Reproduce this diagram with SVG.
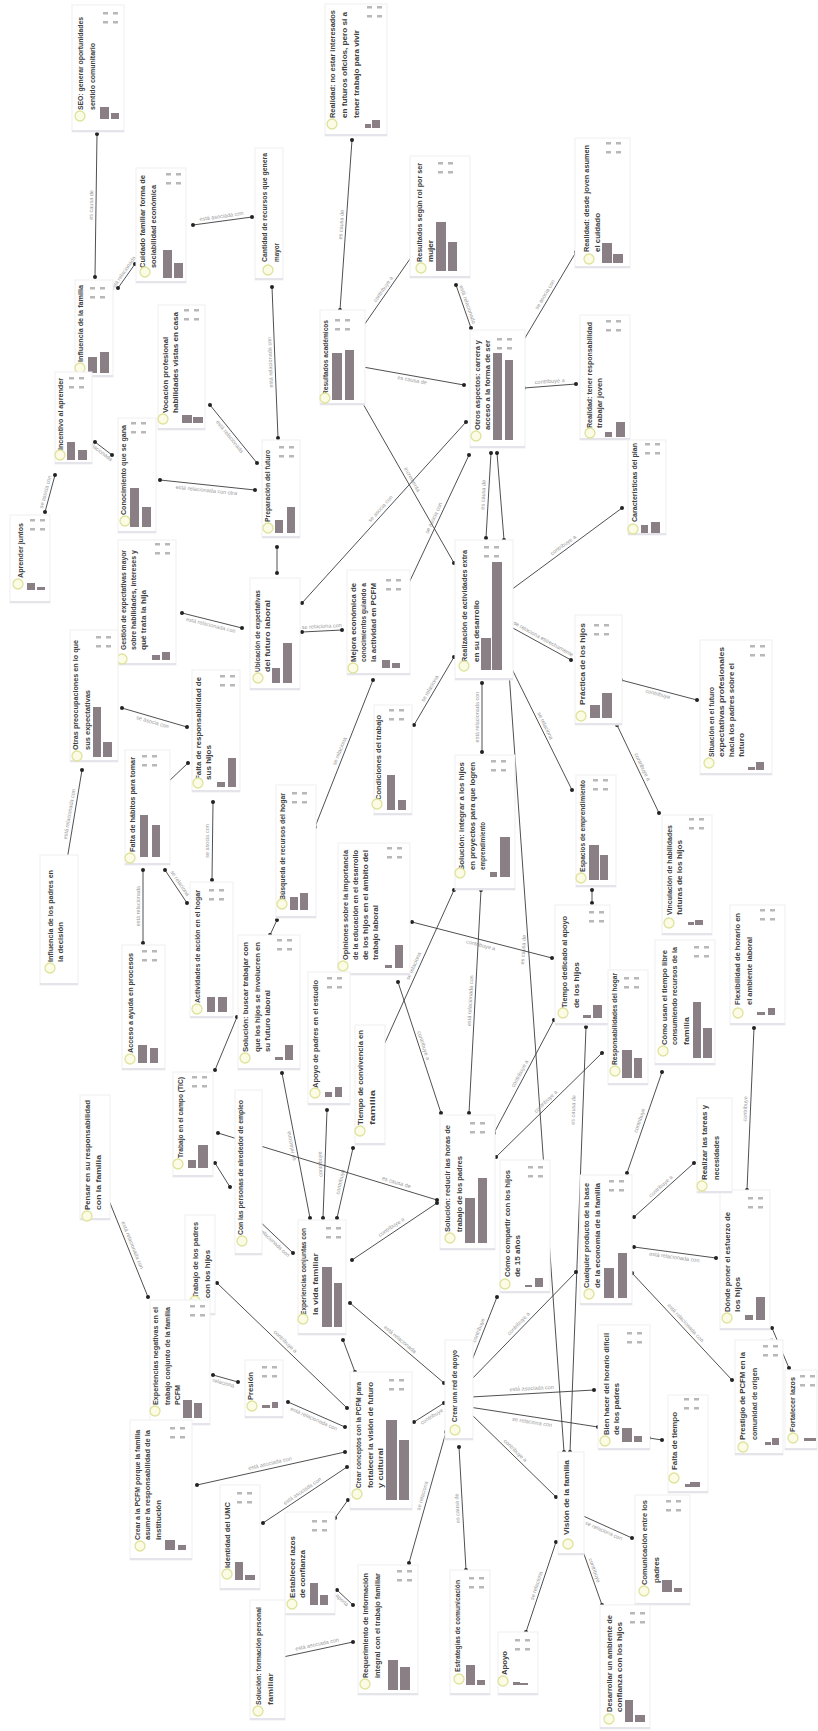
<svg xmlns="http://www.w3.org/2000/svg" xmlns:xlink="http://www.w3.org/1999/xlink" width="818" height="1731" viewBox="0 0 818 1731">
<style>
.bx{fill:#fff;stroke:#efeff2;stroke-width:1}
.sh{fill:#e4e4ea}
.t{font-family:"Liberation Sans",Arial,sans-serif;font-size:7.5px;fill:#404040;font-weight:bold}
.c{fill:#fbfbe6;stroke:#dfe39a;stroke-width:1.3}
.b{fill:#8a7f84}
.ln{stroke:#3c3c3c;stroke-width:0.9;fill:none;marker-start:url(#d);marker-end:url(#d)}
.lb{font-family:"Liberation Sans",Arial,sans-serif;font-size:5.5px;fill:#9a9a9a;text-anchor:middle}
</style>
<defs>
<marker id="d" viewBox="0 0 6 6" refX="3" refY="3" markerWidth="4" markerHeight="4" markerUnits="userSpaceOnUse"><circle cx="3" cy="3" r="3" fill="#222"/></marker>
<g id="mk" fill="#b8b8b8"><rect x="0" y="0" width="5" height="2.5"/><rect x="10" y="0" width="5" height="2.5"/><rect x="0" y="9" width="5" height="2.5"/><rect x="10" y="9" width="5" height="2.5"/></g>
</defs>
<rect width="818" height="1731" fill="#fff"/>

<g id="connectors">
<line class="ln" x1="97" y1="134" x2="95" y2="277"/><text class="lb" transform="translate(96,205) rotate(-89)" y="-3">es causa de</text>
<line class="ln" x1="118" y1="288" x2="135" y2="264"/><text class="lb" transform="translate(127,276) rotate(-55)" y="-3">está relacionada</text>
<line class="ln" x1="193" y1="225" x2="252" y2="217"/><text class="lb" transform="translate(222,221) rotate(-8)" y="-3">está asociada con</text>
<line class="ln" x1="272" y1="287" x2="278" y2="438"/><text class="lb" transform="translate(275,362) rotate(-92)" y="-3">está relacionada con</text>
<line class="ln" x1="352" y1="140" x2="340" y2="310"/><text class="lb" transform="translate(346,225) rotate(-86)" y="-3">es causa de</text>
<line class="ln" x1="362" y1="328" x2="412" y2="256"/><text class="lb" transform="translate(387,292) rotate(-55)" y="-3">contribuye a</text>
<line class="ln" x1="471" y1="328" x2="456" y2="285"/><text class="lb" transform="translate(463,306) rotate(71)" y="-3">está relacionada</text>
<line class="ln" x1="522" y1="343" x2="576" y2="252"/><text class="lb" transform="translate(549,297) rotate(-59)" y="-3">se asocia con</text>
<line class="ln" x1="363" y1="367" x2="464" y2="385"/><text class="lb" transform="translate(413,376) rotate(10)" y="6">es causa de</text>
<line class="ln" x1="524" y1="388" x2="576" y2="384"/><text class="lb" transform="translate(550,386) rotate(-4)" y="-3">contribuye a</text>
<line class="ln" x1="362" y1="402" x2="454" y2="563"/><text class="lb" transform="translate(408,482) rotate(60)" y="-3">incrementa</text>
<line class="ln" x1="466" y1="422" x2="302" y2="603"/><text class="lb" transform="translate(384,512) rotate(-48)" y="-3">se asocia con</text>
<line class="ln" x1="469" y1="455" x2="408" y2="585"/><text class="lb" transform="translate(438,520) rotate(-65)" y="-3">se asocia con</text>
<line class="ln" x1="491" y1="453" x2="486" y2="538"/><text class="lb" transform="translate(488,495) rotate(-87)" y="-3">es causa de</text>
<line class="ln" x1="497" y1="453" x2="504" y2="540"/>
<line class="ln" x1="622" y1="508" x2="511" y2="590"/><text class="lb" transform="translate(566,549) rotate(-36)" y="-3">contribuye a</text>
<line class="ln" x1="511" y1="627" x2="571" y2="660"/><text class="lb" transform="translate(541,643) rotate(29)" y="-3">se relaciona estrechamente</text>
<line class="ln" x1="511" y1="667" x2="572" y2="790"/><text class="lb" transform="translate(541,728) rotate(64)" y="-3">se relaciona</text>
<line class="ln" x1="509" y1="672" x2="564" y2="1452"/><text class="lb" transform="translate(528,950) rotate(-86)" y="-3">es causa de</text>
<line class="ln" x1="454" y1="657" x2="414" y2="725"/><text class="lb" transform="translate(434,691) rotate(-60)" y="-3">se relaciona</text>
<line class="ln" x1="482" y1="683" x2="482" y2="752"/><text class="lb" transform="translate(482,717) rotate(-90)" y="-3">está relacionada con</text>
<line class="ln" x1="621" y1="680" x2="697" y2="700"/><text class="lb" transform="translate(659,690) rotate(15)" y="6">contribuye</text>
<line class="ln" x1="617" y1="725" x2="659" y2="813"/><text class="lb" transform="translate(638,769) rotate(64)" y="-3">contribuye a</text>
<line class="ln" x1="95" y1="442" x2="112" y2="455"/><text class="lb" transform="translate(103,448) rotate(37)" y="6">relacionada</text>
<line class="ln" x1="55" y1="475" x2="45" y2="512"/><text class="lb" transform="translate(50,493) rotate(-75)" y="-3">se asocia con</text>
<line class="ln" x1="210" y1="405" x2="257" y2="463"/><text class="lb" transform="translate(233,434) rotate(51)" y="6">está relacionada</text>
<line class="ln" x1="160" y1="480" x2="255" y2="490"/><text class="lb" transform="translate(207,485) rotate(6)" y="7">está relacionada con otra</text>
<line class="ln" x1="277" y1="547" x2="277" y2="573"/>
<line class="ln" x1="182" y1="613" x2="242" y2="628"/><text class="lb" transform="translate(212,620) rotate(14)" y="7">está relacionada con</text>
<line class="ln" x1="302" y1="632" x2="342" y2="630"/><text class="lb" transform="translate(322,631) rotate(-3)" y="-3">se relaciona con</text>
<line class="ln" x1="373" y1="680" x2="315" y2="827"/><text class="lb" transform="translate(344,753) rotate(-68)" y="-3">se relaciona</text>
<line class="ln" x1="122" y1="708" x2="187" y2="727"/><text class="lb" transform="translate(154,717) rotate(16)" y="7">se asocia con</text>
<line class="ln" x1="82" y1="770" x2="67" y2="860"/><text class="lb" transform="translate(74,815) rotate(-80)" y="-3">está relacionada con</text>
<line class="ln" x1="188" y1="763" x2="167" y2="783"/>
<line class="ln" x1="213" y1="802" x2="212" y2="880"/><text class="lb" transform="translate(212,841) rotate(-90)" y="-3">se asocia con</text>
<line class="ln" x1="143" y1="870" x2="143" y2="943"/><text class="lb" transform="translate(143,906) rotate(-90)" y="-3">está relacionada</text>
<line class="ln" x1="165" y1="870" x2="187" y2="903"/><text class="lb" transform="translate(176,886) rotate(56)" y="-3">se relaciona</text>
<line class="ln" x1="277" y1="920" x2="270" y2="935"/>
<line class="ln" x1="237" y1="1017" x2="215" y2="1070"/>
<line class="ln" x1="398" y1="982" x2="441" y2="1113"/><text class="lb" transform="translate(419,1047) rotate(72)" y="-3">contribuye a</text>
<line class="ln" x1="412" y1="922" x2="552" y2="958"/><text class="lb" transform="translate(482,940) rotate(14)" y="7">contribuye a</text>
<line class="ln" x1="454" y1="890" x2="383" y2="1047"/><text class="lb" transform="translate(418,968) rotate(-66)" y="-3">se relaciona</text>
<line class="ln" x1="481" y1="890" x2="469" y2="1113"/><text class="lb" transform="translate(475,1001) rotate(-87)" y="-3">está relacionada con</text>
<line class="ln" x1="592" y1="890" x2="592" y2="903"/>
<line class="ln" x1="586" y1="1027" x2="570" y2="1452"/><text class="lb" transform="translate(578,1110) rotate(-88)" y="-3">es causa de</text>
<line class="ln" x1="554" y1="1020" x2="494" y2="1133"/><text class="lb" transform="translate(524,1076) rotate(-62)" y="-3">contribuye a</text>
<line class="ln" x1="602" y1="1053" x2="496" y2="1157"/><text class="lb" transform="translate(549,1105) rotate(-44)" y="-3">contribuye a</text>
<line class="ln" x1="662" y1="1072" x2="627" y2="1173"/><text class="lb" transform="translate(644,1122) rotate(-71)" y="-3">contribuye</text>
<line class="ln" x1="754" y1="1028" x2="747" y2="1190"/><text class="lb" transform="translate(750,1109) rotate(-88)" y="-3">contribuye</text>
<line class="ln" x1="634" y1="1217" x2="694" y2="1163"/><text class="lb" transform="translate(664,1190) rotate(-42)" y="-3">contribuye a</text>
<line class="ln" x1="634" y1="1247" x2="716" y2="1258"/><text class="lb" transform="translate(675,1252) rotate(8)" y="7">está relacionada con</text>
<line class="ln" x1="632" y1="1273" x2="732" y2="1380"/><text class="lb" transform="translate(682,1326) rotate(47)" y="-3">está relacionada con</text>
<line class="ln" x1="772" y1="1328" x2="789" y2="1368"/><text class="lb" transform="translate(780,1348) rotate(67)" y="6">contribuye</text>
<line class="ln" x1="469" y1="1382" x2="576" y2="1272"/><text class="lb" transform="translate(522,1327) rotate(-46)" y="-3">contribuye a</text>
<line class="ln" x1="497" y1="1297" x2="469" y2="1368"/><text class="lb" transform="translate(483,1332) rotate(-68)" y="-3">contribuye</text>
<line class="ln" x1="471" y1="1397" x2="594" y2="1390"/><text class="lb" transform="translate(532,1393) rotate(-3)" y="-3">está asociada con</text>
<line class="ln" x1="469" y1="1407" x2="598" y2="1427"/><text class="lb" transform="translate(533,1417) rotate(9)" y="7">se relaciona con</text>
<line class="ln" x1="469" y1="1412" x2="556" y2="1497"/><text class="lb" transform="translate(512,1454) rotate(44)" y="-3">contribuye a</text>
<line class="ln" x1="350" y1="1303" x2="444" y2="1383"/><text class="lb" transform="translate(397,1343) rotate(40)" y="-3">está relacionada</text>
<line class="ln" x1="352" y1="1260" x2="437" y2="1203"/><text class="lb" transform="translate(394,1231) rotate(-34)" y="-3">contribuye a</text>
<line class="ln" x1="414" y1="1422" x2="444" y2="1403"/><text class="lb" transform="translate(429,1412) rotate(-32)" y="7">contribuye</text>
<line class="ln" x1="446" y1="1432" x2="409" y2="1563"/><text class="lb" transform="translate(427,1497) rotate(-74)" y="-3">se relaciona</text>
<line class="ln" x1="459" y1="1447" x2="466" y2="1570"/><text class="lb" transform="translate(462,1508) rotate(-93)" y="-3">es causa de</text>
<line class="ln" x1="581" y1="1515" x2="632" y2="1538"/><text class="lb" transform="translate(606,1526) rotate(24)" y="7">se relaciona con</text>
<line class="ln" x1="556" y1="1542" x2="526" y2="1632"/><text class="lb" transform="translate(541,1587) rotate(-72)" y="-3">se relaciona</text>
<line class="ln" x1="579" y1="1540" x2="602" y2="1605"/><text class="lb" transform="translate(590,1572) rotate(70)" y="-3">contribuye</text>
<line class="ln" x1="649" y1="1438" x2="662" y2="1440"/>
<line class="ln" x1="108" y1="1198" x2="148" y2="1297"/><text class="lb" transform="translate(128,1247) rotate(68)" y="-3">está relacionada con</text>
<line class="ln" x1="215" y1="1163" x2="230" y2="1187"/>
<line class="ln" x1="255" y1="1217" x2="293" y2="1253"/><text class="lb" transform="translate(274,1235) rotate(43)" y="7">está relacionada con</text>
<line class="ln" x1="217" y1="1283" x2="347" y2="1408"/><text class="lb" transform="translate(282,1345) rotate(44)" y="-3">contribuye a</text>
<line class="ln" x1="213" y1="1375" x2="238" y2="1382"/><text class="lb" transform="translate(225,1378) rotate(16)" y="7">relaciona</text>
<line class="ln" x1="288" y1="1402" x2="345" y2="1427"/><text class="lb" transform="translate(316,1414) rotate(24)" y="7">está relacionada con</text>
<line class="ln" x1="343" y1="1340" x2="355" y2="1372"/>
<line class="ln" x1="282" y1="1073" x2="310" y2="1218"/><text class="lb" transform="translate(296,1145) rotate(-101)" y="-3">se relaciona</text>
<line class="ln" x1="327" y1="1110" x2="323" y2="1218"/><text class="lb" transform="translate(325,1164) rotate(-92)" y="-3">contribuye</text>
<line class="ln" x1="353" y1="1148" x2="337" y2="1218"/><text class="lb" transform="translate(345,1183) rotate(-77)" y="-3">contribuye</text>
<line class="ln" x1="218" y1="1133" x2="437" y2="1200"/><text class="lb" transform="translate(395,1187) rotate(17)" y="-3">es causa de</text>
<line class="ln" x1="197" y1="1485" x2="345" y2="1452"/><text class="lb" transform="translate(271,1468) rotate(-13)" y="-3">está asociada con</text>
<line class="ln" x1="263" y1="1523" x2="347" y2="1467"/><text class="lb" transform="translate(305,1495) rotate(-34)" y="-3">está asociada con</text>
<line class="ln" x1="335" y1="1518" x2="348" y2="1500"/>
<line class="ln" x1="337" y1="1590" x2="353" y2="1605"/><text class="lb" transform="translate(345,1597) rotate(43)" y="6">aporta</text>
<line class="ln" x1="283" y1="1657" x2="353" y2="1642"/><text class="lb" transform="translate(318,1649) rotate(-12)" y="-3">está asociada con</text>
</g>

<g id="nA"><rect class="bx" x="72" y="5" width="52" height="127"/><rect class="sh" x="72" y="130" width="52" height="2"/><text class="t" x="83" y="110" transform="rotate(-90 83 110)" textLength="93" lengthAdjust="spacingAndGlyphs">SEO: generar oportunidades</text><text class="t" x="95" y="110" transform="rotate(-90 95 110)" textLength="67" lengthAdjust="spacingAndGlyphs">sentido comunitario</text><circle class="c" cx="80" cy="116" r="5"/><rect class="b" x="100" y="107" width="9" height="12"/><rect class="b" x="111" y="113" width="8" height="6"/><use href="#mk" x="103" y="12"/></g>
<g id="nD"><rect class="bx" x="325" y="4" width="62" height="132"/><rect class="sh" x="325" y="134" width="62" height="2"/><text class="t" x="335" y="118" transform="rotate(-90 335 118)" textLength="108" lengthAdjust="spacingAndGlyphs">Realidad: no estar interesados</text><text class="t" x="347" y="118" transform="rotate(-90 347 118)" textLength="106" lengthAdjust="spacingAndGlyphs">en futuros oficios, pero sí a</text><text class="t" x="359" y="118" transform="rotate(-90 359 118)" textLength="88" lengthAdjust="spacingAndGlyphs">tener trabajo para vivir</text><circle class="c" cx="332" cy="124" r="5"/><rect class="b" x="365" y="124" width="6" height="4"/><rect class="b" x="372" y="120" width="8" height="8"/><use href="#mk" x="367" y="6"/></g>
<g id="nB"><rect class="bx" x="136" y="168" width="50" height="115"/><rect class="sh" x="136" y="281" width="50" height="2"/><text class="t" x="145" y="268" transform="rotate(-90 145 268)" textLength="93" lengthAdjust="spacingAndGlyphs">Cuidado familiar forma de</text><text class="t" x="156" y="268" transform="rotate(-90 156 268)" textLength="83" lengthAdjust="spacingAndGlyphs">sociabilidad económica</text><circle class="c" cx="145" cy="272" r="5"/><rect class="b" x="163" y="250" width="9" height="28"/><rect class="b" x="174" y="263" width="9" height="15"/><use href="#mk" x="166" y="173"/></g>
<g id="nC"><rect class="bx" x="255" y="148" width="28" height="132"/><rect class="sh" x="255" y="278" width="28" height="2"/><text class="t" x="267" y="262" transform="rotate(-90 267 262)" textLength="109" lengthAdjust="spacingAndGlyphs">Cantidad de recursos que genera</text><text class="t" x="279" y="262" transform="rotate(-90 279 262)" textLength="19" lengthAdjust="spacingAndGlyphs">mayor</text><circle class="c" cx="268" cy="270" r="5"/></g>
<g id="nE"><rect class="bx" x="410" y="156" width="60" height="122"/><rect class="sh" x="410" y="276" width="60" height="2"/><text class="t" x="422" y="262" transform="rotate(-90 422 262)" textLength="99" lengthAdjust="spacingAndGlyphs">Resultados según rol por ser</text><text class="t" x="433" y="262" transform="rotate(-90 433 262)" textLength="22" lengthAdjust="spacingAndGlyphs">mujer</text><circle class="c" cx="421" cy="268" r="5"/><rect class="b" x="436" y="222" width="10" height="49"/><rect class="b" x="448" y="242" width="9" height="29"/><use href="#mk" x="438" y="162"/></g>
<g id="nF"><rect class="bx" x="575" y="138" width="55" height="130"/><rect class="sh" x="575" y="266" width="55" height="2"/><text class="t" x="589" y="252" transform="rotate(-90 589 252)" textLength="107" lengthAdjust="spacingAndGlyphs">Realidad: desde joven asumen</text><text class="t" x="600" y="252" transform="rotate(-90 600 252)" textLength="39" lengthAdjust="spacingAndGlyphs">el cuidado</text><circle class="c" cx="589" cy="259" r="5"/><rect class="b" x="602" y="243" width="10" height="20"/><rect class="b" x="613" y="254" width="10" height="9"/><use href="#mk" x="606" y="142"/></g>
<g id="nG"><rect class="bx" x="75" y="280" width="38" height="97"/><rect class="sh" x="75" y="375" width="38" height="2"/><text class="t" x="83" y="362" transform="rotate(-90 83 362)" textLength="77" lengthAdjust="spacingAndGlyphs">Influencia de la familia</text><circle class="c" cx="80" cy="368" r="5"/><rect class="b" x="88" y="357" width="9" height="16"/><rect class="b" x="100" y="352" width="9" height="21"/><use href="#mk" x="90" y="287"/></g>
<g id="nH"><rect class="bx" x="55" y="372" width="37" height="92"/><rect class="sh" x="55" y="462" width="37" height="2"/><text class="t" x="63" y="450" transform="rotate(-90 63 450)" textLength="72" lengthAdjust="spacingAndGlyphs">Incentivo al aprender</text><circle class="c" cx="60" cy="455" r="5"/><rect class="b" x="67" y="442" width="8" height="18"/><rect class="b" x="78" y="450" width="9" height="10"/><use href="#mk" x="69" y="377"/></g>
<g id="nI"><rect class="bx" x="118" y="418" width="38" height="115"/><rect class="sh" x="118" y="531" width="38" height="2"/><text class="t" x="126" y="515" transform="rotate(-90 126 515)" textLength="90" lengthAdjust="spacingAndGlyphs">Conocimiento que se gana</text><circle class="c" cx="125" cy="521" r="5"/><rect class="b" x="130" y="488" width="9" height="39"/><rect class="b" x="142" y="507" width="9" height="20"/><use href="#mk" x="131" y="422"/></g>
<g id="nJ"><rect class="bx" x="158" y="305" width="47" height="125"/><rect class="sh" x="158" y="428" width="47" height="2"/><text class="t" x="168" y="413" transform="rotate(-90 168 413)" textLength="76" lengthAdjust="spacingAndGlyphs">Vocación profesional</text><text class="t" x="178" y="413" transform="rotate(-90 178 413)" textLength="101" lengthAdjust="spacingAndGlyphs">habilidades vistas en casa</text><circle class="c" cx="163" cy="419" r="5"/><rect class="b" x="182" y="415" width="10" height="8"/><rect class="b" x="193" y="417" width="10" height="6"/><use href="#mk" x="184" y="309"/></g>
<g id="nK"><rect class="bx" x="262" y="440" width="38" height="98"/><rect class="sh" x="262" y="536" width="38" height="2"/><text class="t" x="270" y="522" transform="rotate(-90 270 522)" textLength="72" lengthAdjust="spacingAndGlyphs">Preparación del futuro</text><circle class="c" cx="268" cy="528" r="5"/><rect class="b" x="275" y="520" width="8" height="13"/><rect class="b" x="287" y="507" width="8" height="26"/><use href="#mk" x="279" y="446"/></g>
<g id="nM"><rect class="bx" x="320" y="310" width="45" height="95"/><rect class="sh" x="320" y="403" width="45" height="2"/><text class="t" x="328" y="395" transform="rotate(-90 328 395)" textLength="75" lengthAdjust="spacingAndGlyphs">Resultados académicos</text><circle class="c" cx="325" cy="398" r="5"/><rect class="b" x="332" y="353" width="10" height="47"/><rect class="b" x="345" y="350" width="9" height="50"/><use href="#mk" x="335" y="319"/></g>
<g id="nN"><rect class="bx" x="470" y="330" width="55" height="118"/><rect class="sh" x="470" y="446" width="55" height="2"/><text class="t" x="480" y="430" transform="rotate(-90 480 430)" textLength="90" lengthAdjust="spacingAndGlyphs">Otros aspectos: carrera y</text><text class="t" x="490" y="430" transform="rotate(-90 490 430)" textLength="90" lengthAdjust="spacingAndGlyphs">acceso a la forma de ser</text><circle class="c" cx="476" cy="436" r="5"/><rect class="b" x="493" y="353" width="9" height="87"/><rect class="b" x="505" y="360" width="8" height="80"/><use href="#mk" x="497" y="338"/></g>
<g id="nP"><rect class="bx" x="580" y="315" width="50" height="125"/><rect class="sh" x="580" y="438" width="50" height="2"/><text class="t" x="592" y="428" transform="rotate(-90 592 428)" textLength="106" lengthAdjust="spacingAndGlyphs">Realidad: tener responsabilidad</text><text class="t" x="602" y="428" transform="rotate(-90 602 428)" textLength="50" lengthAdjust="spacingAndGlyphs">trabajar joven</text><circle class="c" cx="590" cy="433" r="5"/><rect class="b" x="605" y="432" width="7" height="5"/><rect class="b" x="616" y="422" width="9" height="15"/><use href="#mk" x="606" y="320"/></g>
<g id="nQ"><rect class="bx" x="628" y="440" width="38" height="95"/><rect class="sh" x="628" y="533" width="38" height="2"/><text class="t" x="637" y="522" transform="rotate(-90 637 522)" textLength="79" lengthAdjust="spacingAndGlyphs">Características del plan</text><circle class="c" cx="633" cy="529" r="5"/><rect class="b" x="641" y="525" width="7" height="8"/><rect class="b" x="651" y="522" width="9" height="11"/><use href="#mk" x="645" y="443"/></g>
<g id="nR"><rect class="bx" x="10" y="515" width="40" height="88"/><rect class="sh" x="10" y="601" width="40" height="2"/><text class="t" x="23" y="578" transform="rotate(-90 23 578)" textLength="55" lengthAdjust="spacingAndGlyphs">Aprender juntos</text><circle class="c" cx="18" cy="584" r="5"/><rect class="b" x="27" y="583" width="8" height="7"/><rect class="b" x="37" y="587" width="8" height="3"/><use href="#mk" x="30" y="519"/></g>
<g id="nS"><rect class="bx" x="118" y="540" width="58" height="125"/><rect class="sh" x="118" y="663" width="58" height="2"/><text class="t" x="126" y="650" transform="rotate(-90 126 650)" textLength="100" lengthAdjust="spacingAndGlyphs">Gestión de expectativas mayor</text><text class="t" x="136" y="650" transform="rotate(-90 136 650)" textLength="100" lengthAdjust="spacingAndGlyphs">sobre habilidades, intereses y</text><text class="t" x="146" y="650" transform="rotate(-90 146 650)" textLength="60" lengthAdjust="spacingAndGlyphs">qué trata la hija</text><circle class="c" cx="122" cy="659" r="5"/><rect class="b" x="152" y="655" width="8" height="5"/><rect class="b" x="162" y="652" width="8" height="8"/><use href="#mk" x="155" y="543"/></g>
<g id="nT"><rect class="bx" x="250" y="578" width="50" height="112"/><rect class="sh" x="250" y="688" width="50" height="2"/><text class="t" x="260" y="672" transform="rotate(-90 260 672)" textLength="82" lengthAdjust="spacingAndGlyphs">Ubicación de expectativas</text><text class="t" x="270" y="672" transform="rotate(-90 270 672)" textLength="72" lengthAdjust="spacingAndGlyphs">del futuro laboral</text><circle class="c" cx="258" cy="678" r="5"/><rect class="b" x="272" y="668" width="8" height="15"/><rect class="b" x="283" y="643" width="9" height="40"/><use href="#mk" x="218" y="677"/></g>
<g id="nU"><rect class="bx" x="347" y="570" width="63" height="105"/><rect class="sh" x="347" y="673" width="63" height="2"/><text class="t" x="356" y="662" transform="rotate(-90 356 662)" textLength="79" lengthAdjust="spacingAndGlyphs">Mejora económica de</text><text class="t" x="366" y="662" transform="rotate(-90 366 662)" textLength="79" lengthAdjust="spacingAndGlyphs">conocimientos guiando a</text><text class="t" x="376" y="662" transform="rotate(-90 376 662)" textLength="79" lengthAdjust="spacingAndGlyphs">la actividad en PCFM</text><circle class="c" cx="353" cy="668" r="5"/><rect class="b" x="382" y="660" width="8" height="8"/><rect class="b" x="392" y="663" width="8" height="5"/><use href="#mk" x="386" y="579"/></g>
<g id="nV"><rect class="bx" x="70" y="630" width="48" height="132"/><rect class="sh" x="70" y="760" width="48" height="2"/><text class="t" x="78" y="750" transform="rotate(-90 78 750)" textLength="110" lengthAdjust="spacingAndGlyphs">Otras preocupaciones en lo que</text><text class="t" x="90" y="750" transform="rotate(-90 90 750)" textLength="60" lengthAdjust="spacingAndGlyphs">sus expectativas</text><circle class="c" cx="77" cy="756" r="5"/><rect class="b" x="93" y="707" width="8" height="50"/><rect class="b" x="103" y="742" width="9" height="15"/><use href="#mk" x="96" y="636"/></g>
<g id="nW"><rect class="bx" x="192" y="670" width="48" height="122"/><rect class="sh" x="192" y="790" width="48" height="2"/><text class="t" x="201" y="780" transform="rotate(-90 201 780)" textLength="103" lengthAdjust="spacingAndGlyphs">Falta de responsabilidad de</text><text class="t" x="211" y="780" transform="rotate(-90 211 780)" textLength="35" lengthAdjust="spacingAndGlyphs">sus hijos</text><circle class="c" cx="198" cy="783" r="5"/><rect class="b" x="217" y="782" width="8" height="5"/><rect class="b" x="228" y="758" width="8" height="29"/><use href="#mk" x="220" y="675"/></g>
<g id="nX"><rect class="bx" x="125" y="750" width="45" height="115"/><rect class="sh" x="125" y="863" width="45" height="2"/><text class="t" x="135" y="852" transform="rotate(-90 135 852)" textLength="95" lengthAdjust="spacingAndGlyphs">Falta de hábitos para tomar</text><circle class="c" cx="130" cy="858" r="5"/><rect class="b" x="140" y="815" width="8" height="42"/><rect class="b" x="152" y="825" width="8" height="32"/><use href="#mk" x="142" y="755"/></g>
<g id="nY"><rect class="bx" x="276" y="785" width="40" height="133"/><rect class="sh" x="276" y="916" width="40" height="2"/><text class="t" x="285" y="900" transform="rotate(-90 285 900)" textLength="107" lengthAdjust="spacingAndGlyphs">Búsqueda de recursos del hogar</text><circle class="c" cx="282" cy="904" r="5"/><rect class="b" x="290" y="897" width="8" height="13"/><rect class="b" x="300" y="893" width="8" height="17"/><use href="#mk" x="292" y="792"/></g>
<g id="nZ"><rect class="bx" x="374" y="705" width="38" height="110"/><rect class="sh" x="374" y="813" width="38" height="2"/><text class="t" x="381" y="800" transform="rotate(-90 381 800)" textLength="85" lengthAdjust="spacingAndGlyphs">Condiciones del trabajo</text><circle class="c" cx="377" cy="804" r="5"/><rect class="b" x="387" y="775" width="8" height="35"/><rect class="b" x="398" y="800" width="8" height="10"/><use href="#mk" x="389" y="709"/></g>
<g id="nO"><rect class="bx" x="455" y="540" width="58" height="140"/><rect class="sh" x="455" y="678" width="58" height="2"/><text class="t" x="467" y="662" transform="rotate(-90 467 662)" textLength="112" lengthAdjust="spacingAndGlyphs">Realización de actividades extra</text><text class="t" x="479" y="662" transform="rotate(-90 479 662)" textLength="62" lengthAdjust="spacingAndGlyphs">en su desarrollo</text><circle class="c" cx="464" cy="666" r="5"/><rect class="b" x="481" y="638" width="10" height="32"/><rect class="b" x="492" y="562" width="10" height="108"/><use href="#mk" x="484" y="546"/></g>
<g id="nAB"><rect class="bx" x="575" y="615" width="47" height="110"/><rect class="sh" x="575" y="723" width="47" height="2"/><text class="t" x="585" y="705" transform="rotate(-90 585 705)" textLength="82" lengthAdjust="spacingAndGlyphs">Práctica de los hijos</text><circle class="c" cx="581" cy="716" r="5"/><rect class="b" x="590" y="705" width="10" height="13"/><rect class="b" x="602" y="693" width="10" height="25"/><use href="#mk" x="594" y="624"/></g>
<g id="nAD"><rect class="bx" x="700" y="640" width="72" height="135"/><rect class="sh" x="700" y="773" width="72" height="2"/><text class="t" x="714" y="757" transform="rotate(-90 714 757)" textLength="70" lengthAdjust="spacingAndGlyphs">Situación en el futuro</text><text class="t" x="724" y="757" transform="rotate(-90 724 757)" textLength="110" lengthAdjust="spacingAndGlyphs">expectativas profesionales</text><text class="t" x="734" y="757" transform="rotate(-90 734 757)" textLength="94" lengthAdjust="spacingAndGlyphs">hacia los padres sobre el</text><text class="t" x="744" y="757" transform="rotate(-90 744 757)" textLength="24" lengthAdjust="spacingAndGlyphs">futuro</text><circle class="c" cx="709" cy="763" r="5"/><rect class="b" x="748" y="767" width="7" height="3"/><rect class="b" x="756" y="762" width="8" height="8"/><use href="#mk" x="750" y="645"/></g>
<g id="nAC"><rect class="bx" x="455" y="755" width="60" height="135"/><rect class="sh" x="455" y="888" width="60" height="2"/><text class="t" x="464" y="870" transform="rotate(-90 464 870)" textLength="108" lengthAdjust="spacingAndGlyphs">Solución: integrar a los hijos</text><text class="t" x="475" y="870" transform="rotate(-90 475 870)" textLength="108" lengthAdjust="spacingAndGlyphs">en proyectos para que logren</text><text class="t" x="485" y="870" transform="rotate(-90 485 870)" textLength="48" lengthAdjust="spacingAndGlyphs">emprendimiento</text><circle class="c" cx="460" cy="873" r="5"/><rect class="b" x="490" y="872" width="7" height="5"/><rect class="b" x="500" y="837" width="10" height="40"/><use href="#mk" x="491" y="760"/></g>
<g id="nAF"><rect class="bx" x="576" y="775" width="40" height="112"/><rect class="sh" x="576" y="885" width="40" height="2"/><text class="t" x="585" y="872" transform="rotate(-90 585 872)" textLength="92" lengthAdjust="spacingAndGlyphs">Espacios de emprendimiento</text><circle class="c" cx="581" cy="878" r="5"/><rect class="b" x="589" y="845" width="10" height="35"/><rect class="b" x="600" y="855" width="8" height="25"/><use href="#mk" x="593" y="779"/></g>
<g id="nAE"><rect class="bx" x="662" y="815" width="50" height="120"/><rect class="sh" x="662" y="933" width="50" height="2"/><text class="t" x="672" y="915" transform="rotate(-90 672 915)" textLength="90" lengthAdjust="spacingAndGlyphs">Vinculación de habilidades</text><text class="t" x="682" y="915" transform="rotate(-90 682 915)" textLength="75" lengthAdjust="spacingAndGlyphs">futuras de los hijos</text><circle class="c" cx="669" cy="923" r="5"/><rect class="b" x="688" y="922" width="6" height="3"/><rect class="b" x="695" y="920" width="8" height="5"/><use href="#mk" x="689" y="818"/></g>
<g id="nAG"><rect class="bx" x="40" y="855" width="38" height="130"/><rect class="sh" x="40" y="983" width="38" height="2"/><text class="t" x="53" y="962" transform="rotate(-90 53 962)" textLength="92" lengthAdjust="spacingAndGlyphs">Influencia de los padres en</text><text class="t" x="63" y="962" transform="rotate(-90 63 962)" textLength="40" lengthAdjust="spacingAndGlyphs">la decisión</text><circle class="c" cx="50" cy="968" r="5"/></g>
<g id="nAH"><rect class="bx" x="122" y="945" width="43" height="125"/><rect class="sh" x="122" y="1068" width="43" height="2"/><text class="t" x="133" y="1053" transform="rotate(-90 133 1053)" textLength="100" lengthAdjust="spacingAndGlyphs">Acceso a ayuda en procesos</text><circle class="c" cx="130" cy="1059" r="5"/><rect class="b" x="138" y="1045" width="9" height="18"/><rect class="b" x="150" y="1048" width="8" height="15"/><use href="#mk" x="142" y="950"/></g>
<g id="nAI"><rect class="bx" x="190" y="882" width="43" height="136"/><rect class="sh" x="190" y="1016" width="43" height="2"/><text class="t" x="200" y="1003" transform="rotate(-90 200 1003)" textLength="113" lengthAdjust="spacingAndGlyphs">Actividades de acción en el hogar</text><circle class="c" cx="197" cy="1009" r="5"/><rect class="b" x="207" y="997" width="8" height="15"/><rect class="b" x="218" y="997" width="9" height="15"/><use href="#mk" x="209" y="889"/></g>
<g id="nAJ"><rect class="bx" x="238" y="935" width="62" height="135"/><rect class="sh" x="238" y="1068" width="62" height="2"/><text class="t" x="248" y="1052" transform="rotate(-90 248 1052)" textLength="110" lengthAdjust="spacingAndGlyphs">Solución: buscar trabajar con</text><text class="t" x="260" y="1052" transform="rotate(-90 260 1052)" textLength="110" lengthAdjust="spacingAndGlyphs">que los hijos se involucren en</text><text class="t" x="270" y="1052" transform="rotate(-90 270 1052)" textLength="62" lengthAdjust="spacingAndGlyphs">su futuro laboral</text><circle class="c" cx="245" cy="1058" r="5"/><rect class="b" x="275" y="1057" width="8" height="3"/><rect class="b" x="285" y="1045" width="8" height="15"/><use href="#mk" x="277" y="939"/></g>
<g id="nAK"><rect class="bx" x="338" y="843" width="72" height="132"/><rect class="sh" x="338" y="973" width="72" height="2"/><text class="t" x="348" y="960" transform="rotate(-90 348 960)" textLength="110" lengthAdjust="spacingAndGlyphs">Opiniones sobre la importancia</text><text class="t" x="358" y="960" transform="rotate(-90 358 960)" textLength="110" lengthAdjust="spacingAndGlyphs">de la educación en el desarrollo</text><text class="t" x="368" y="960" transform="rotate(-90 368 960)" textLength="110" lengthAdjust="spacingAndGlyphs">de los hijos en el ámbito del</text><text class="t" x="378" y="960" transform="rotate(-90 378 960)" textLength="55" lengthAdjust="spacingAndGlyphs">trabajo laboral</text><circle class="c" cx="343" cy="966" r="5"/><rect class="b" x="385" y="965" width="7" height="3"/><rect class="b" x="395" y="945" width="8" height="23"/><use href="#mk" x="387" y="847"/></g>
<g id="nAL"><rect class="bx" x="308" y="972" width="42" height="133"/><rect class="sh" x="308" y="1103" width="42" height="2"/><text class="t" x="318" y="1088" transform="rotate(-90 318 1088)" textLength="108" lengthAdjust="spacingAndGlyphs">Apoyo de padres en el estudio</text><circle class="c" cx="315" cy="1093" r="5"/><rect class="b" x="325" y="1092" width="7" height="5"/><rect class="b" x="335" y="1087" width="7" height="10"/><use href="#mk" x="327" y="977"/></g>
<g id="nAM"><rect class="bx" x="355" y="1025" width="30" height="120"/><rect class="sh" x="355" y="1143" width="30" height="2"/><text class="t" x="363" y="1125" transform="rotate(-90 363 1125)" textLength="95" lengthAdjust="spacingAndGlyphs">Tiempo de convivencia en</text><text class="t" x="375" y="1125" transform="rotate(-90 375 1125)" textLength="35" lengthAdjust="spacingAndGlyphs">familia</text><circle class="c" cx="360" cy="1131" r="5"/></g>
<g id="nAN"><rect class="bx" x="173" y="1072" width="40" height="105"/><rect class="sh" x="173" y="1175" width="40" height="2"/><text class="t" x="183" y="1158" transform="rotate(-90 183 1158)" textLength="81" lengthAdjust="spacingAndGlyphs">Trabajo en el campo (TIC)</text><circle class="c" cx="178" cy="1164" r="5"/><rect class="b" x="188" y="1160" width="8" height="8"/><rect class="b" x="198" y="1145" width="10" height="23"/><use href="#mk" x="192" y="1076"/></g>
<g id="nAO"><rect class="bx" x="80" y="1095" width="30" height="125"/><rect class="sh" x="80" y="1218" width="30" height="2"/><text class="t" x="90" y="1210" transform="rotate(-90 90 1210)" textLength="110" lengthAdjust="spacingAndGlyphs">Pensar en su responsabilidad</text><text class="t" x="101" y="1210" transform="rotate(-90 101 1210)" textLength="55" lengthAdjust="spacingAndGlyphs">con la familia</text><circle class="c" cx="87" cy="1216" r="5"/></g>
<g id="nAV"><rect class="bx" x="235" y="1090" width="27" height="165"/><rect class="sh" x="235" y="1253" width="27" height="2"/><text class="t" x="243" y="1235" transform="rotate(-90 243 1235)" textLength="135" lengthAdjust="spacingAndGlyphs">Con las personas de alrededor de empleo</text><circle class="c" cx="242" cy="1241" r="5"/></g>
<g id="nAX"><rect class="bx" x="185" y="1215" width="30" height="100"/><rect class="sh" x="185" y="1313" width="30" height="2"/><text class="t" x="198" y="1298" transform="rotate(-90 198 1298)" textLength="76" lengthAdjust="spacingAndGlyphs">Trabajo de los padres</text><text class="t" x="210" y="1298" transform="rotate(-90 210 1298)" textLength="48" lengthAdjust="spacingAndGlyphs">con los hijos</text><circle class="c" cx="195" cy="1301" r="5"/></g>
<g id="nAW"><rect class="bx" x="298" y="1220" width="48" height="115"/><rect class="sh" x="298" y="1333" width="48" height="2"/><text class="t" x="306" y="1315" transform="rotate(-90 306 1315)" textLength="87" lengthAdjust="spacingAndGlyphs">Experiencias conjuntas con</text><text class="t" x="318" y="1315" transform="rotate(-90 318 1315)" textLength="62" lengthAdjust="spacingAndGlyphs">la vida familiar</text><circle class="c" cx="303" cy="1319" r="5"/><rect class="b" x="322" y="1267" width="10" height="60"/><rect class="b" x="334" y="1283" width="8" height="44"/><use href="#mk" x="326" y="1227"/></g>
<g id="nAZ"><rect class="bx" x="150" y="1300" width="60" height="125"/><rect class="sh" x="150" y="1423" width="60" height="2"/><text class="t" x="158" y="1405" transform="rotate(-90 158 1405)" textLength="98" lengthAdjust="spacingAndGlyphs">Experiencias negativas en el</text><text class="t" x="170" y="1405" transform="rotate(-90 170 1405)" textLength="98" lengthAdjust="spacingAndGlyphs">trabajo conjunto de la familia</text><text class="t" x="180" y="1405" transform="rotate(-90 180 1405)" textLength="20" lengthAdjust="spacingAndGlyphs">PCFM</text><circle class="c" cx="155" cy="1411" r="5"/><rect class="b" x="183" y="1400" width="9" height="18"/><rect class="b" x="194" y="1403" width="8" height="15"/><use href="#mk" x="190" y="1305"/></g>
<g id="nBB"><rect class="bx" x="245" y="1360" width="38" height="58"/><rect class="sh" x="245" y="1416" width="38" height="2"/><text class="t" x="253" y="1400" transform="rotate(-90 253 1400)" textLength="28" lengthAdjust="spacingAndGlyphs">Presión</text><circle class="c" cx="252" cy="1406" r="5"/><rect class="b" x="262" y="1405" width="8" height="3"/><rect class="b" x="272" y="1402" width="6" height="6"/><use href="#mk" x="262" y="1366"/></g>
<g id="nAY"><rect class="bx" x="350" y="1372" width="62" height="138"/><rect class="sh" x="350" y="1508" width="62" height="2"/><text class="t" x="361" y="1488" transform="rotate(-90 361 1488)" textLength="106" lengthAdjust="spacingAndGlyphs">Crear conceptos con la PCFM para</text><text class="t" x="373" y="1488" transform="rotate(-90 373 1488)" textLength="106" lengthAdjust="spacingAndGlyphs">fortalecer la visión de futuro</text><text class="t" x="383" y="1488" transform="rotate(-90 383 1488)" textLength="40" lengthAdjust="spacingAndGlyphs">y cultural</text><circle class="c" cx="357" cy="1494" r="5"/><rect class="b" x="386" y="1420" width="11" height="80"/><rect class="b" x="399" y="1440" width="10" height="60"/><use href="#mk" x="389" y="1379"/></g>
<g id="nBK"><rect class="bx" x="130" y="1420" width="62" height="140"/><rect class="sh" x="130" y="1558" width="62" height="2"/><text class="t" x="140" y="1540" transform="rotate(-90 140 1540)" textLength="110" lengthAdjust="spacingAndGlyphs">Crear a la PCFM porque la familia</text><text class="t" x="150" y="1540" transform="rotate(-90 150 1540)" textLength="110" lengthAdjust="spacingAndGlyphs">asume la responsabilidad de la</text><text class="t" x="161" y="1540" transform="rotate(-90 161 1540)" textLength="40" lengthAdjust="spacingAndGlyphs">institución</text><circle class="c" cx="140" cy="1546" r="5"/><rect class="b" x="165" y="1540" width="10" height="10"/><rect class="b" x="178" y="1545" width="8" height="5"/><use href="#mk" x="170" y="1427"/></g>
<g id="nBL"><rect class="bx" x="220" y="1485" width="40" height="105"/><rect class="sh" x="220" y="1588" width="40" height="2"/><text class="t" x="230" y="1568" transform="rotate(-90 230 1568)" textLength="66" lengthAdjust="spacingAndGlyphs">Identidad del UMC</text><circle class="c" cx="227" cy="1574" r="5"/><rect class="b" x="235" y="1562" width="8" height="18"/><rect class="b" x="245" y="1575" width="10" height="5"/><use href="#mk" x="237" y="1492"/></g>
<g id="nBM"><rect class="bx" x="285" y="1512" width="50" height="103"/><rect class="sh" x="285" y="1613" width="50" height="2"/><text class="t" x="295" y="1598" transform="rotate(-90 295 1598)" textLength="62" lengthAdjust="spacingAndGlyphs">Establecer lazos</text><text class="t" x="305" y="1598" transform="rotate(-90 305 1598)" textLength="48" lengthAdjust="spacingAndGlyphs">de confianza</text><circle class="c" cx="292" cy="1604" r="5"/><rect class="b" x="310" y="1583" width="8" height="22"/><rect class="b" x="320" y="1595" width="8" height="10"/><use href="#mk" x="312" y="1520"/></g>
<g id="nBN"><rect class="bx" x="358" y="1565" width="60" height="130"/><rect class="sh" x="358" y="1693" width="60" height="2"/><text class="t" x="368" y="1678" transform="rotate(-90 368 1678)" textLength="105" lengthAdjust="spacingAndGlyphs">Requerimiento de información</text><text class="t" x="380" y="1678" transform="rotate(-90 380 1678)" textLength="105" lengthAdjust="spacingAndGlyphs">integral con el trabajo familiar</text><circle class="c" cx="365" cy="1684" r="5"/><rect class="b" x="388" y="1660" width="10" height="30"/><rect class="b" x="400" y="1667" width="10" height="23"/><use href="#mk" x="397" y="1570"/></g>
<g id="nBO"><rect class="bx" x="250" y="1600" width="35" height="120"/><rect class="sh" x="250" y="1718" width="35" height="2"/><text class="t" x="261" y="1705" transform="rotate(-90 261 1705)" textLength="98" lengthAdjust="spacingAndGlyphs">Solución: formación personal</text><text class="t" x="273" y="1705" transform="rotate(-90 273 1705)" textLength="32" lengthAdjust="spacingAndGlyphs">familiar</text><circle class="c" cx="258" cy="1711" r="5"/></g>
<g id="nBE"><rect class="bx" x="445" y="1340" width="28" height="100"/><rect class="sh" x="445" y="1438" width="28" height="2"/><text class="t" x="457" y="1422" transform="rotate(-90 457 1422)" textLength="72" lengthAdjust="spacingAndGlyphs">Crear una red de apoyo</text><circle class="c" cx="455" cy="1430" r="5"/></g>
<g id="nBP"><rect class="bx" x="450" y="1570" width="40" height="125"/><rect class="sh" x="450" y="1693" width="40" height="2"/><text class="t" x="460" y="1672" transform="rotate(-90 460 1672)" textLength="92" lengthAdjust="spacingAndGlyphs">Estrategias de comunicación</text><circle class="c" cx="459" cy="1679" r="5"/><rect class="b" x="466" y="1665" width="9" height="20"/><rect class="b" x="477" y="1680" width="8" height="5"/><use href="#mk" x="469" y="1577"/></g>
<g id="nBQ"><rect class="bx" x="558" y="1452" width="26" height="103"/><rect class="sh" x="558" y="1553" width="26" height="2"/><text class="t" x="569" y="1535" transform="rotate(-90 569 1535)" textLength="75" lengthAdjust="spacingAndGlyphs">Visión de la familia</text><circle class="c" cx="568" cy="1544" r="5"/></g>
<g id="nBR"><rect class="bx" x="635" y="1495" width="55" height="110"/><rect class="sh" x="635" y="1603" width="55" height="2"/><text class="t" x="647" y="1585" transform="rotate(-90 647 1585)" textLength="85" lengthAdjust="spacingAndGlyphs">Comunicación entre los</text><text class="t" x="659" y="1583" transform="rotate(-90 659 1583)" textLength="26" lengthAdjust="spacingAndGlyphs">padres</text><circle class="c" cx="644" cy="1591" r="5"/><rect class="b" x="662" y="1580" width="10" height="12"/><rect class="b" x="674" y="1588" width="8" height="4"/><use href="#mk" x="666" y="1500"/></g>
<g id="nBS"><rect class="bx" x="498" y="1632" width="40" height="63"/><rect class="sh" x="498" y="1693" width="40" height="2"/><text class="t" x="507" y="1675" transform="rotate(-90 507 1675)" textLength="24" lengthAdjust="spacingAndGlyphs">Apoyo</text><circle class="c" cx="503" cy="1681" r="5"/><rect class="b" x="513" y="1682" width="7" height="3"/><rect class="b" x="520" y="1683" width="8" height="2"/><use href="#mk" x="515" y="1639"/></g>
<g id="nBT"><rect class="bx" x="600" y="1605" width="50" height="124"/><rect class="sh" x="600" y="1727" width="50" height="2"/><text class="t" x="612" y="1712" transform="rotate(-90 612 1712)" textLength="97" lengthAdjust="spacingAndGlyphs">Desarrollar un ambiente de</text><text class="t" x="622" y="1712" transform="rotate(-90 622 1712)" textLength="90" lengthAdjust="spacingAndGlyphs">confianza con los hijos</text><circle class="c" cx="609" cy="1719" r="5"/><rect class="b" x="625" y="1700" width="8" height="22"/><rect class="b" x="635" y="1715" width="10" height="7"/><use href="#mk" x="630" y="1612"/></g>
<g id="nBJ"><rect class="bx" x="668" y="1395" width="40" height="98"/><rect class="sh" x="668" y="1491" width="40" height="2"/><text class="t" x="677" y="1470" transform="rotate(-90 677 1470)" textLength="58" lengthAdjust="spacingAndGlyphs">Falta de tiempo</text><circle class="c" cx="674" cy="1478" r="5"/><rect class="b" x="685" y="1484" width="5" height="3"/><rect class="b" x="690" y="1482" width="10" height="5"/><use href="#mk" x="684" y="1398"/></g>
<g id="nBI"><rect class="bx" x="598" y="1325" width="52" height="125"/><rect class="sh" x="598" y="1448" width="52" height="2"/><text class="t" x="609" y="1435" transform="rotate(-90 609 1435)" textLength="102" lengthAdjust="spacingAndGlyphs">Bien hacer del horario difícil</text><text class="t" x="619" y="1435" transform="rotate(-90 619 1435)" textLength="52" lengthAdjust="spacingAndGlyphs">de los padres</text><circle class="c" cx="605" cy="1441" r="5"/><rect class="b" x="622" y="1428" width="10" height="14"/><rect class="b" x="634" y="1436" width="8" height="6"/><use href="#mk" x="627" y="1332"/></g>
<g id="nBD"><rect class="bx" x="580" y="1175" width="52" height="130"/><rect class="sh" x="580" y="1303" width="52" height="2"/><text class="t" x="589" y="1288" transform="rotate(-90 589 1288)" textLength="105" lengthAdjust="spacingAndGlyphs">Cualquier producto de la base</text><text class="t" x="600" y="1288" transform="rotate(-90 600 1288)" textLength="105" lengthAdjust="spacingAndGlyphs">de la economía de la familia</text><circle class="c" cx="589" cy="1294" r="5"/><rect class="b" x="604" y="1268" width="10" height="30"/><rect class="b" x="618" y="1253" width="9" height="45"/><use href="#mk" x="609" y="1180"/></g>
<g id="nBC"><rect class="bx" x="500" y="1160" width="50" height="133"/><rect class="sh" x="500" y="1291" width="50" height="2"/><text class="t" x="510" y="1277" transform="rotate(-90 510 1277)" textLength="107" lengthAdjust="spacingAndGlyphs">Cómo compartir con los hijos</text><text class="t" x="520" y="1277" transform="rotate(-90 520 1277)" textLength="42" lengthAdjust="spacingAndGlyphs">de 15 años</text><circle class="c" cx="505" cy="1284" r="5"/><rect class="b" x="525" y="1285" width="7" height="2"/><rect class="b" x="535" y="1278" width="8" height="9"/><use href="#mk" x="528" y="1166"/></g>
<g id="nAU"><rect class="bx" x="440" y="1115" width="55" height="135"/><rect class="sh" x="440" y="1248" width="55" height="2"/><text class="t" x="450" y="1232" transform="rotate(-90 450 1232)" textLength="107" lengthAdjust="spacingAndGlyphs">Solución: reducir las horas de</text><text class="t" x="462" y="1232" transform="rotate(-90 462 1232)" textLength="76" lengthAdjust="spacingAndGlyphs">trabajo de los padres</text><circle class="c" cx="450" cy="1238" r="5"/><rect class="b" x="465" y="1198" width="10" height="45"/><rect class="b" x="478" y="1178" width="9" height="65"/><use href="#mk" x="470" y="1122"/></g>
<g id="nBF"><rect class="bx" x="720" y="1190" width="50" height="140"/><rect class="sh" x="720" y="1328" width="50" height="2"/><text class="t" x="730" y="1312" transform="rotate(-90 730 1312)" textLength="100" lengthAdjust="spacingAndGlyphs">Dónde poner el esfuerzo de</text><text class="t" x="740" y="1312" transform="rotate(-90 740 1312)" textLength="35" lengthAdjust="spacingAndGlyphs">los hijos</text><circle class="c" cx="727" cy="1318" r="5"/><rect class="b" x="745" y="1315" width="8" height="5"/><rect class="b" x="756" y="1297" width="9" height="23"/><use href="#mk" x="748" y="1197"/></g>
<g id="nBG"><rect class="bx" x="785" y="1370" width="32" height="80"/><rect class="sh" x="785" y="1448" width="32" height="2"/><text class="t" x="795" y="1432" transform="rotate(-90 795 1432)" textLength="55" lengthAdjust="spacingAndGlyphs">Fortalecer lazos</text><circle class="c" cx="793" cy="1438" r="5"/><rect class="b" x="804" y="1438" width="12" height="3"/><use href="#mk" x="800" y="1375"/></g>
<g id="nBH"><rect class="bx" x="735" y="1340" width="48" height="115"/><rect class="sh" x="735" y="1453" width="48" height="2"/><text class="t" x="745" y="1440" transform="rotate(-90 745 1440)" textLength="88" lengthAdjust="spacingAndGlyphs">Prestigio de PCFM en la</text><text class="t" x="757" y="1440" transform="rotate(-90 757 1440)" textLength="72" lengthAdjust="spacingAndGlyphs">comunidad de origen</text><circle class="c" cx="743" cy="1447" r="5"/><rect class="b" x="765" y="1442" width="6" height="3"/><rect class="b" x="772" y="1438" width="7" height="7"/><use href="#mk" x="763" y="1345"/></g>
<g id="nAT"><rect class="bx" x="697" y="1098" width="35" height="95"/><rect class="sh" x="697" y="1191" width="35" height="2"/><text class="t" x="707" y="1180" transform="rotate(-90 707 1180)" textLength="75" lengthAdjust="spacingAndGlyphs">Realizar las tareas y</text><text class="t" x="719" y="1180" transform="rotate(-90 719 1180)" textLength="44" lengthAdjust="spacingAndGlyphs">necesidades</text><circle class="c" cx="702" cy="1186" r="5"/></g>
<g id="nAP"><rect class="bx" x="555" y="905" width="55" height="120"/><rect class="sh" x="555" y="1023" width="55" height="2"/><text class="t" x="567" y="1008" transform="rotate(-90 567 1008)" textLength="92" lengthAdjust="spacingAndGlyphs">Tiempo dedicado al apoyo</text><text class="t" x="579" y="1008" transform="rotate(-90 579 1008)" textLength="46" lengthAdjust="spacingAndGlyphs">de los hijos</text><circle class="c" cx="563" cy="1013" r="5"/><rect class="b" x="583" y="1015" width="8" height="3"/><rect class="b" x="593" y="1005" width="9" height="13"/><use href="#mk" x="589" y="911"/></g>
<g id="nAQ"><rect class="bx" x="608" y="970" width="40" height="115"/><rect class="sh" x="608" y="1083" width="40" height="2"/><text class="t" x="617" y="1065" transform="rotate(-90 617 1065)" textLength="92" lengthAdjust="spacingAndGlyphs">Responsabilidades del hogar</text><circle class="c" cx="615" cy="1071" r="5"/><rect class="b" x="622" y="1050" width="10" height="28"/><rect class="b" x="634" y="1058" width="8" height="20"/><use href="#mk" x="624" y="977"/></g>
<g id="nAR"><rect class="bx" x="655" y="940" width="60" height="125"/><rect class="sh" x="655" y="1063" width="60" height="2"/><text class="t" x="667" y="1045" transform="rotate(-90 667 1045)" textLength="95" lengthAdjust="spacingAndGlyphs">Cómo usan el tiempo libre</text><text class="t" x="677" y="1045" transform="rotate(-90 677 1045)" textLength="98" lengthAdjust="spacingAndGlyphs">consumiendo recursos de la</text><text class="t" x="689" y="1045" transform="rotate(-90 689 1045)" textLength="28" lengthAdjust="spacingAndGlyphs">familia</text><circle class="c" cx="663" cy="1051" r="5"/><rect class="b" x="693" y="1002" width="8" height="56"/><rect class="b" x="703" y="1028" width="9" height="30"/><use href="#mk" x="694" y="946"/></g>
<g id="nAS"><rect class="bx" x="730" y="905" width="55" height="120"/><rect class="sh" x="730" y="1023" width="55" height="2"/><text class="t" x="740" y="1005" transform="rotate(-90 740 1005)" textLength="92" lengthAdjust="spacingAndGlyphs">Flexibilidad de horario en</text><text class="t" x="752" y="1005" transform="rotate(-90 752 1005)" textLength="68" lengthAdjust="spacingAndGlyphs">el ambiente laboral</text><circle class="c" cx="738" cy="1013" r="5"/><rect class="b" x="757" y="1012" width="8" height="3"/><rect class="b" x="768" y="1008" width="7" height="7"/><use href="#mk" x="760" y="909"/></g>
</svg>
